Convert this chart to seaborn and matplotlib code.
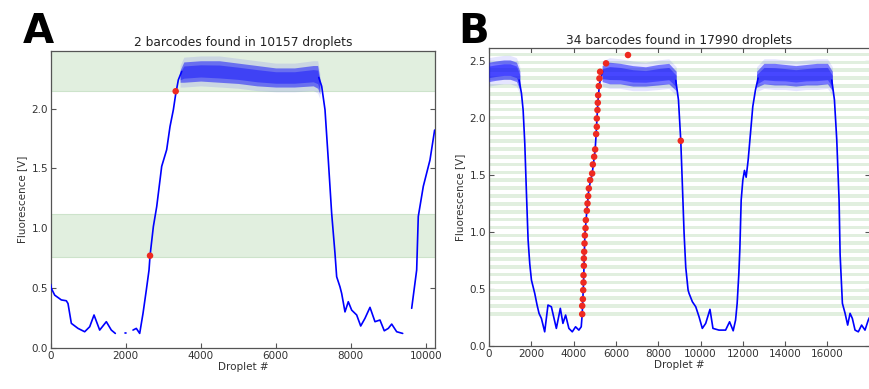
import numpy as np
import pandas as pd
import matplotlib
matplotlib.use("Agg")
import matplotlib.pyplot as plt
import seaborn as sns

# ---------------- Panel A data ----------------
title_a = "2 barcodes found in 10157 droplets"
a_trace_x = [0, 16, 106, 283, 416, 461, 550, 728, 906, 1040, 1155, 1306, 1483, 1616, 1723, np.nan,
             1975, 2000, np.nan,
             2195, 2283, 2373, 2462, 2550, 2622, 2649, 2738, 2827, 2960, 3093, 3182, 3271, 3333, 3404, 3493,
             np.nan,
             7150, 7227, 7316, 7404, 7493, 7582, 7627, 7715, 7760, 7849, 7937, 8027, 8161, 8268, 8382, 8516,
             8649, 8782, 8897, 9004, 9095, 9228, 9388, np.nan,
             9628, 9761, 9804, 9938, 10116, 10240]
a_trace_y = [0.53, 0.497, 0.44, 0.40, 0.393, 0.37, 0.204, 0.162, 0.134, 0.176, 0.274, 0.148, 0.218, 0.148, 0.12, np.nan,
             0.126, 0.126, np.nan,
             0.148, 0.162, 0.12, 0.288, 0.483, 0.65, 0.77, 1.014, 1.18, 1.517, 1.656, 1.85, 1.99, 2.12, 2.24, 2.31,
             np.nan,
             2.26, 2.187, 1.99, 1.57, 1.126, 0.79, 0.594, 0.51, 0.455, 0.30, 0.385, 0.315, 0.274, 0.182, 0.246, 0.338,
             0.218, 0.232, 0.142, 0.162, 0.198, 0.134, 0.12, np.nan,
             0.33, 0.65, 1.098, 1.35, 1.57, 1.82]
a_cloud_x = [3450, 3550, 4000, 4500, 5000, 5500, 6000, 6500, 7000, 7120, 7180]
a_cloud_lo = [2.22, 2.22, 2.23, 2.22, 2.21, 2.19, 2.18, 2.18, 2.19, 2.17, 2.12]
a_cloud_hi = [2.32, 2.39, 2.40, 2.40, 2.38, 2.36, 2.34, 2.34, 2.36, 2.36, 2.25]
a_dots_x = [2649, 3333]
a_dots_y = [0.77, 2.145]
a_bands_lo = [0.763, 2.145]
a_bands_hi = [1.117, 2.60]

# ---------------- Panel B data ----------------
title_b = "34 barcodes found in 17990 droplets"
b_trace_x = [1427, 1537, 1616, 1694, 1773, 1851, 1929, 2009, 2165, 2275, 2368, 2480, 2635, 2791, 2950,
             3059, 3186, 3374, 3497, 3624, 3779, 3939, 4094, 4250, 4362, 4408, 4470, 4533, 4627, 4722,
             4878, 5020, 5067, 5145, 5223, 5380, np.nan,
             8831, 8957, 9067, 9145, 9223, 9302, 9412, 9459, 9615, 9774, 9930, 10085, 10245, 10447, 10588,
             10871, 11185, 11374, 11544, 11657, 11732, 11812, 11859, 11922, 12000, 12078, 12157, 12251,
             12361, 12470, 12596, 12721, np.nan,
             16204, 16329, 16439, 16549, 16598, 16706, 16833, 16955, 17068, 17177, 17304, 17459, 17614,
             17774, 17929, 17990]
b_trace_y = [2.333, 2.216, 2.07, 1.777, 1.338, 0.928, 0.72, 0.577, 0.46, 0.358, 0.285, 0.24, 0.123, 0.358, 0.343,
             0.255, 0.153, 0.329, 0.197, 0.27, 0.153, 0.123, 0.167, 0.138, 0.167, 0.278, 0.547, 0.969, 1.186, 1.38,
             1.51, 1.72, 1.86, 2.13, 2.30, 2.41, np.nan,
             2.33, 2.16, 1.80, 1.40, 0.99, 0.69, 0.49, 0.46, 0.387, 0.343, 0.255, 0.153, 0.197, 0.32, 0.153,
             0.138, 0.138, 0.211, 0.132, 0.226, 0.373, 0.636, 0.85, 1.28, 1.455, 1.54, 1.48, 1.63,
             1.865, 2.10, 2.245, 2.35, np.nan,
             2.333, 2.16, 1.81, 1.28, 0.80, 0.373, 0.285, 0.182, 0.285, 0.24, 0.138, 0.123, 0.182,
             0.138, 0.226, 0.25]
b_cloud_x = [0, 300, 700, 1000, 1300, 1460, np.nan,
             5350, 5700, 6200, 6800, 7400, 8000, 8500, 8850, np.nan,
             12650, 13000, 13500, 14000, 14500, 15000, 15500, 16000, 16230]
b_cloud_lo = [2.32, 2.33, 2.34, 2.34, 2.32, 2.25, np.nan,
              2.32, 2.30, 2.30, 2.28, 2.28, 2.29, 2.30, 2.24, np.nan,
              2.27, 2.30, 2.29, 2.29, 2.28, 2.29, 2.29, 2.30, 2.24]
b_cloud_hi = [2.49, 2.50, 2.51, 2.51, 2.49, 2.41, np.nan,
              2.46, 2.49, 2.48, 2.46, 2.45, 2.47, 2.48, 2.41, np.nan,
              2.41, 2.48, 2.48, 2.47, 2.46, 2.47, 2.48, 2.48, 2.41]
b_dots_x = [4408, 4408, 4439, 4455, 4470, 4470, 4486, 4486, 4502, 4518, 4533, 4565, 4580, 4627, 4659, 4690,
            4722, 4784, 4878, 4910, 4972, 5020, 5067, 5098, 5098, 5129, 5145, 5161, 5192, 5223, 5255, 5537,
            6572, 9067]
b_dots_y = [0.278, 0.351, 0.41, 0.489, 0.556, 0.62, 0.703, 0.767, 0.826, 0.899, 0.969, 1.033, 1.104, 1.186,
            1.25, 1.314, 1.382, 1.455, 1.513, 1.592, 1.66, 1.724, 1.859, 1.923, 1.996, 2.07, 2.134, 2.2,
            2.28, 2.348, 2.406, 2.48, 2.553, 1.80]
b_levels = [0.28, 0.349, 0.418, 0.487, 0.556, 0.625, 0.694, 0.763, 0.832, 0.901, 0.970, 1.039, 1.108,
            1.177, 1.246, 1.315, 1.384, 1.453, 1.522, 1.591, 1.660, 1.729, 1.798, 1.867, 1.936, 2.005,
            2.074, 2.143, 2.212, 2.281, 2.350, 2.419, 2.488, 2.557]

x_ticks_a = [0, 2000, 4000, 6000, 8000, 10000]
x_ticks_b = [0, 2000, 4000, 6000, 8000, 10000, 12000, 14000, 16000]
y_ticks_a = [0.0, 0.5, 1.0, 1.5, 2.0]
y_ticks_b = [0.0, 0.5, 1.0, 1.5, 2.0, 2.5]

# ---------------- style ----------------
sns.set_theme(style="white")
plt.rcParams["font.family"] = ["DejaVu Sans"]
plt.rcParams.update({
    "xtick.direction": "in", "ytick.direction": "in",
    "xtick.top": True, "ytick.right": True,
    "xtick.major.size": 3.5, "ytick.major.size": 3.5,
    "xtick.bottom": True, "ytick.left": True,
})

BLUE = "#0000ff"
GREEN = "#e1efdf"
GREEN_EDGE = "#cde3cb"
RED = "#ee2a20"
GRAY = "#555555"


def trace_df(xs, ys):
    seg, cur = [], 0
    for x in xs:
        if np.isnan(x):
            cur += 1
        seg.append(cur)
    df = pd.DataFrame({"x": xs, "y": ys, "seg": seg}).dropna()
    return df


def draw_cloud(ax, xs, lo, hi):
    xs = np.array(xs, float); lo = np.array(lo, float); hi = np.array(hi, float)
    breaks = np.where(np.isnan(xs))[0]
    starts = np.r_[0, breaks + 1]
    ends = np.r_[breaks, len(xs)]
    for s, e in zip(starts, ends):
        X, L, H = xs[s:e], lo[s:e], hi[s:e]
        mid = (L + H) / 2
        ax.fill_between(X, L - 0.04, H + 0.04, color=BLUE, alpha=0.10, lw=0, zorder=3)
        ax.fill_between(X, L, H, color=BLUE, alpha=0.48, lw=0, zorder=3)
        ax.fill_between(X, mid - (H - L) * 0.3, mid + (H - L) * 0.3, color=BLUE, alpha=0.40, lw=0, zorder=3)


def style_axes(ax, xt, yt, title):
    for sp in ax.spines.values():
        sp.set_color(GRAY)
        sp.set_linewidth(0.9)
        sp.set_visible(True)
    ax.set_xticks(xt)
    ax.set_yticks(yt)
    ax.set_xticklabels([str(v) for v in xt])
    ax.set_yticklabels([f"{v:.1f}" for v in yt])
    ax.tick_params(axis="both", labelsize=7.5, colors=GRAY, labelcolor="#333333", width=0.8, pad=2)
    ax.set_xlabel("Droplet #", fontsize=7.5, color="#333333", labelpad=1)
    ax.set_ylabel("Fluorescence [V]", fontsize=7.5, color="#333333", labelpad=3)
    ax.set_title(title, fontsize=8.8, color="#222222", pad=3)
    ax.grid(False)


fig = plt.figure(figsize=(8.7, 3.89), dpi=100)
ax_a = fig.add_axes([0.0583, 0.106, 0.4417, 0.764])
ax_b = fig.add_axes([0.562, 0.111, 0.4375, 0.766])

# ---- Panel A ----
for lo, hi in zip(a_bands_lo, a_bands_hi):
    ax_a.axhspan(lo, hi, facecolor=GREEN, edgecolor=GREEN_EDGE, lw=0.8, zorder=1)
draw_cloud(ax_a, a_cloud_x, a_cloud_lo, a_cloud_hi)
sns.lineplot(data=trace_df(a_trace_x, a_trace_y), x="x", y="y", units="seg", estimator=None,
             sort=False, color=BLUE, lw=1.2, ax=ax_a, zorder=4)
sns.scatterplot(x=a_dots_x, y=a_dots_y, color=RED, s=22, edgecolor="none", ax=ax_a, zorder=5)
ax_a.set_xlim(0, 10250)
ax_a.set_ylim(0, 2.485)
style_axes(ax_a, x_ticks_a, y_ticks_a, title_a)

# ---- Panel B ----
for lv in b_levels:
    ax_b.axhspan(lv - 0.016, lv + 0.016, facecolor=GREEN, edgecolor="none", zorder=1)
draw_cloud(ax_b, b_cloud_x, b_cloud_lo, b_cloud_hi)
sns.lineplot(data=trace_df(b_trace_x, b_trace_y), x="x", y="y", units="seg", estimator=None,
             sort=False, color=BLUE, lw=1.2, ax=ax_b, zorder=4)
sns.scatterplot(x=b_dots_x, y=b_dots_y, color=RED, s=22, edgecolor="none", ax=ax_b, zorder=5)
ax_b.set_xlim(0, 17990)
ax_b.set_ylim(0, 2.616)
style_axes(ax_b, x_ticks_b, y_ticks_b, title_b)

fig.text(0.026, 0.89, "A", fontsize=29, fontweight="bold", color="black")
fig.text(0.527, 0.89, "B", fontsize=29, fontweight="bold", color="black")

fig.savefig("out.png", dpi=100)
